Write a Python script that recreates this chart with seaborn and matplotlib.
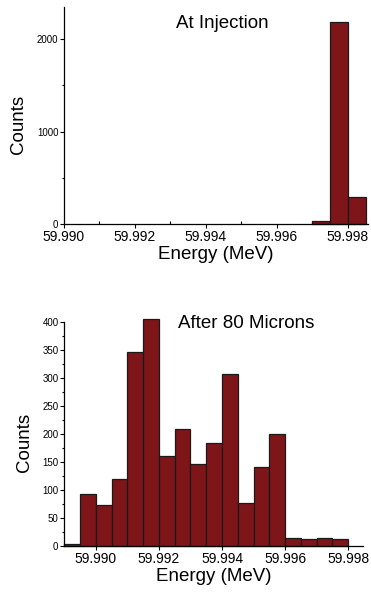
import numpy as np
import pandas as pd
import matplotlib
matplotlib.use("Agg")
import matplotlib.pyplot as plt
from matplotlib.ticker import MultipleLocator, FormatStrFormatter
import seaborn as sns

# bin edges (MeV) and counts
inj_edges = [59.9970, 59.9975, 59.9980, 59.9985]
inj_counts = [30, 2185, 296]

mic_edges = [59.9890, 59.9895, 59.9900, 59.9905, 59.9910, 59.9915, 59.9920,
             59.9925, 59.9930, 59.9935, 59.9940, 59.9945, 59.9950, 59.9955,
             59.9960, 59.9965, 59.9970, 59.9975, 59.9980]
mic_counts = [4, 92, 73, 119, 346, 404, 160, 209, 147, 183, 306, 76, 141, 199,
              15, 13, 15, 12]

bar_color = "#7e1518"

sns.set_style("ticks")
plt.rcParams['font.family'] = ['Liberation Sans', 'DejaVu Sans']
plt.rcParams['text.color'] = 'black'
plt.rcParams['axes.labelcolor'] = 'black'
plt.rcParams['xtick.color'] = 'black'
plt.rcParams['ytick.color'] = 'black'
plt.rcParams['axes.edgecolor'] = 'black'

fig = plt.figure(figsize=(3.71, 5.92), dpi=100)
ax1 = fig.add_axes([0.1725, 0.6216, 0.819, 0.3666])
ax2 = fig.add_axes([0.1725, 0.0777, 0.806, 0.379])


def draw(ax, edges, counts):
    e = np.array(edges)
    centers = (e[:-1] + e[1:]) / 2
    df = pd.DataFrame({"energy": centers, "count": counts})
    sns.histplot(data=df, x="energy", weights="count", bins=list(edges), ax=ax,
                 color=bar_color, alpha=1, edgecolor="#1a1a1a", linewidth=0.9)
    for p in ax.patches:
        p.set_clip_on(False)
    sns.despine(ax=ax)
    ax.xaxis.set_major_locator(MultipleLocator(0.002))
    ax.xaxis.set_minor_locator(MultipleLocator(0.001))
    ax.xaxis.set_major_formatter(FormatStrFormatter("%.3f"))
    ax.tick_params(axis="x", which="major", direction="out", length=3, width=0.8,
                   labelsize=10, pad=1)
    ax.tick_params(axis="x", which="minor", direction="in", length=2, width=0.8)
    ax.tick_params(axis="y", which="both", direction="out", length=3, width=0.8,
                   labelsize=7, pad=1)
    ax.tick_params(axis="y", which="minor", length=1.5)
    ax.set_xlabel("Energy (MeV)", fontsize=13.5, labelpad=2)
    ax.set_ylabel("Counts", fontsize=13.5)
    for s in ax.spines.values():
        s.set_linewidth(0.9)


draw(ax1, inj_edges, inj_counts)
ax1.set_xlim(59.990, 59.99856)
ax1.set_ylim(0, 2350)
ax1.yaxis.set_major_locator(MultipleLocator(1000))
ax1.yaxis.set_minor_locator(MultipleLocator(500))
ax1.yaxis.set_label_coords(-0.123, 0.46)
ax1.text(0.52, 0.925, "At Injection", transform=ax1.transAxes, ha="center",
         va="center", fontsize=13.5)

draw(ax2, mic_edges, mic_counts)
ax2.set_xlim(59.98899, 59.99847)
ax2.set_ylim(0, 400)
ax2.yaxis.set_major_locator(MultipleLocator(50))
ax2.yaxis.set_minor_locator(MultipleLocator(25))
ax2.yaxis.set_label_coords(-0.102, 0.46)
ax2.text(0.61, 0.99, "After 80 Microns", transform=ax2.transAxes, ha="center",
         va="center", fontsize=13.5)

fig.savefig("out.png", dpi=100)
